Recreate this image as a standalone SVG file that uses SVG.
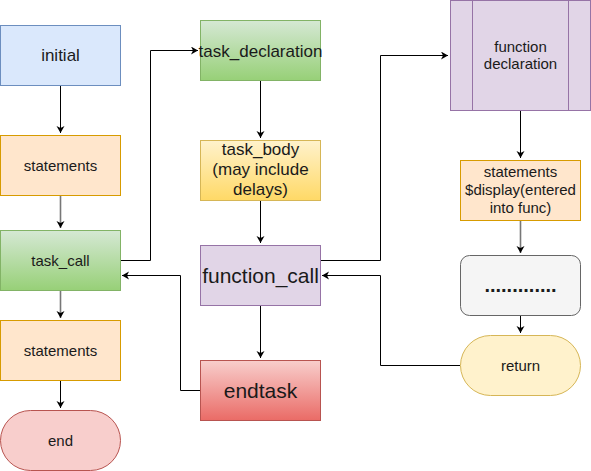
<svg xmlns="http://www.w3.org/2000/svg" width="591" height="471" viewBox="0 0 591 471">
<defs>
<linearGradient id="gGreen" x1="0" y1="0" x2="0" y2="1"><stop offset="0" stop-color="#d5e8d4"/><stop offset="1" stop-color="#97d077"/></linearGradient>
<linearGradient id="gYellow" x1="0" y1="0" x2="0" y2="1"><stop offset="0" stop-color="#fff2cc"/><stop offset="1" stop-color="#ffd966"/></linearGradient>
<linearGradient id="gRed" x1="0" y1="0" x2="0" y2="1"><stop offset="0" stop-color="#f8cecc"/><stop offset="1" stop-color="#ea6b66"/></linearGradient>
<marker id="arr" markerWidth="10" markerHeight="10" refX="7" refY="4" orient="auto" markerUnits="userSpaceOnUse">
<path d="M0,0 L7,4 L0,8 L2,4 z" fill="#000"/>
</marker>
</defs>
<style>
text{font-family:"Liberation Sans",Arial,sans-serif;fill:#1a1a1a;text-anchor:middle}
.c{fill:none;stroke:#000;stroke-width:1}
.g{fill:none;stroke:#777;stroke-width:1.6}
.blue{fill:#dae8fc;stroke:#6c8ebf}
.orange{fill:#ffe6cc;stroke:#d79b00}
.green{fill:url(#gGreen);stroke:#82b366}
.yel{fill:url(#gYellow);stroke:#d6b656}
.red{fill:url(#gRed);stroke:#b85450}
.pink{fill:#f8cecc;stroke:#b85450}
.purple{fill:#e1d5e7;stroke:#9673a6}
.gray{fill:#f5f5f5;stroke:#666666}
.ret{fill:#fff2cc;stroke:#d6b656}
</style>
<g id="connectors">
<path class="c" d="M60.5,85 V133" marker-end="url(#arr)"/>
<path class="g" d="M60.5,195 V228" marker-end="url(#arr)"/>
<path class="g" d="M60.5,290 V318" marker-end="url(#arr)"/>
<path class="c" d="M60.5,380 V408" marker-end="url(#arr)"/>
<path class="c" d="M120,260.5 H150.5 V50.5 H198" marker-end="url(#arr)"/>
<path class="c" d="M200,390.5 H180.5 V275.5 H122" marker-end="url(#arr)"/>
<path class="c" d="M260.5,80 V138" marker-end="url(#arr)"/>
<path class="c" d="M260.5,200 V243" marker-end="url(#arr)"/>
<path class="c" d="M260.5,305 V358" marker-end="url(#arr)"/>
<path class="c" d="M320,260.5 H380.5 V55.5 H448" marker-end="url(#arr)"/>
<path class="c" d="M460,365.5 H380.5 V275.5 H322" marker-end="url(#arr)"/>
<path class="c" d="M520.5,110 V158" marker-end="url(#arr)"/>
<path class="g" d="M520.5,220 V253" marker-end="url(#arr)"/>
<path class="c" d="M520.5,315 V333" marker-end="url(#arr)"/>
</g>
<g id="initial"><rect class="blue" x="0.5" y="25.5" width="120" height="60"/><text x="60.5" y="61" font-size="17">initial</text></g>
<g id="statements1"><rect class="orange" x="0.5" y="135.5" width="120" height="60"/><text x="60.5" y="171" font-size="15">statements</text></g>
<g id="task_call"><rect class="green" x="0.5" y="230.5" width="120" height="60"/><text x="60.5" y="266" font-size="15">task_call</text></g>
<g id="statements2"><rect class="orange" x="0.5" y="320.5" width="120" height="60"/><text x="60.5" y="356" font-size="15">statements</text></g>
<g id="end"><rect class="pink" x="0.5" y="410.5" width="120" height="60" rx="30" ry="30"/><text x="60.5" y="446" font-size="15">end</text></g>
<g id="task_declaration"><rect class="green" x="200.5" y="20.5" width="120" height="60"/><text x="260.5" y="57" font-size="17">task_declaration</text></g>
<g id="task_body"><rect class="yel" x="200.5" y="140.5" width="120" height="60"/><text font-size="17"><tspan x="260.5" y="155">task_body</tspan><tspan x="260.5" y="175">(may include</tspan><tspan x="260.5" y="195">delays)</tspan></text></g>
<g id="function_call"><rect class="purple" x="200.5" y="245.5" width="120" height="60"/><text x="260.5" y="283" font-size="21">function_call</text></g>
<g id="endtask"><rect class="red" x="200.5" y="360.5" width="120" height="60"/><text x="260.5" y="398" font-size="21">endtask</text></g>
<g id="function_declaration"><rect class="purple" x="450.5" y="0.5" width="140" height="110"/><line class="purple" x1="472.5" y1="0.5" x2="472.5" y2="110.5"/><line class="purple" x1="568.5" y1="0.5" x2="568.5" y2="110.5"/><text font-size="15"><tspan x="520.5" y="52">function</tspan><tspan x="520.5" y="69">declaration</tspan></text></g>
<g id="statements_display"><rect class="orange" x="460.5" y="160.5" width="120" height="60"/><text font-size="15"><tspan x="520.5" y="177">statements</tspan><tspan x="520.5" y="195">$display(entered</tspan><tspan x="520.5" y="213">into func)</tspan></text></g>
<g id="dots"><rect class="gray" x="460.5" y="255.5" width="120" height="60" rx="9" ry="9"/><text x="520.5" y="292" font-size="20" font-weight="bold">.............</text></g>
<g id="return"><rect class="ret" x="460.5" y="335.5" width="120" height="60" rx="30" ry="30"/><text x="520.5" y="371" font-size="15">return</text></g>
</svg>
